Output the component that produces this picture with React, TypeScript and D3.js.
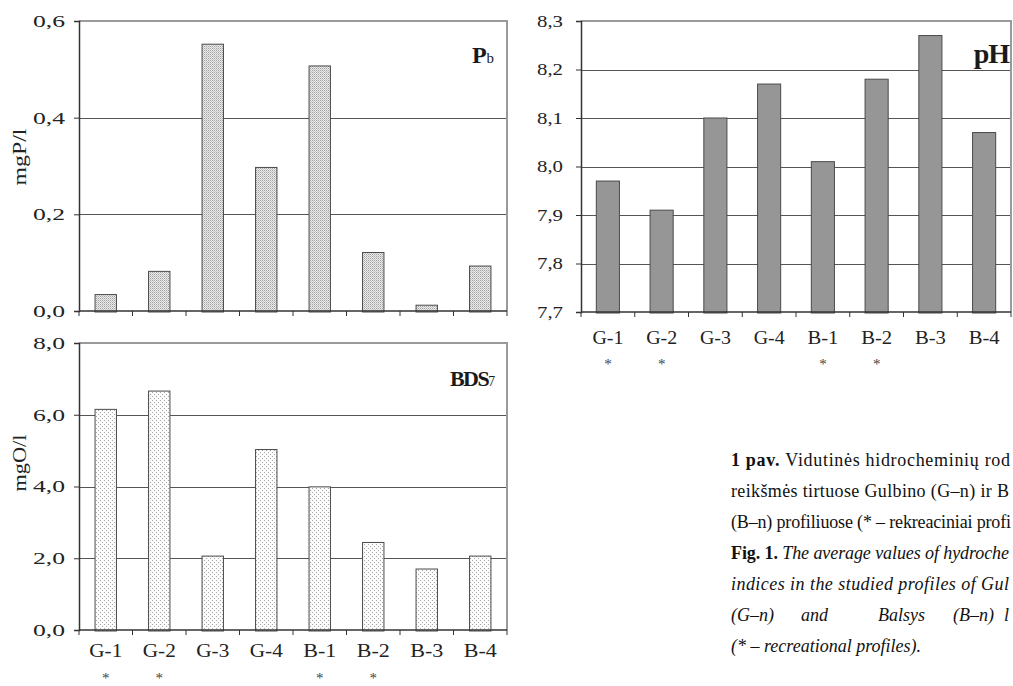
import * as d3 from "d3";
import { useEffect, useRef } from "react";

// profiles (categories)
const profiles = ["G-1", "G-2", "G-3", "G-4", "B-1", "B-2", "B-3", "B-4"];
const recreational = ["G-1", "G-2", "B-1", "B-2"];

// mean values
const pbValues = [0.034, 0.082, 0.552, 0.297, 0.507, 0.121, 0.012, 0.093];
const bdsValues = [6.15, 6.66, 2.06, 5.03, 3.99, 2.44, 1.7, 2.06];
const phValues = [7.97, 7.91, 8.1, 8.17, 8.01, 8.18, 8.27, 8.07];

const pbTicks = [0, 0.2, 0.4, 0.6];
const bdsTicks = [0, 2, 4, 6, 8];
const phTicks = [7.7, 7.8, 7.9, 8.0, 8.1, 8.2, 8.3];

// caption lines as far as the figure shows them (the page is cropped at the right)
const captionLines = [
  "Vidutinės hidrocheminių rod",
  "reikšmės tirtuose Gulbino (G–n) ir B",
  "(B–n) profiliuose (* – rekreaciniai profi",
  "The average values of hydroche",
  "indices in the studied profiles of Gul",
  "(* – recreational profiles).",
];
const captionWords6 = ["(G–n)", "and", "Balsys", "(B–n)", "l"];

const FONT = "'Liberation Serif', 'DejaVu Serif', serif";

type Panel = {
  left: number;
  right: number;
  top: number;
  bottom: number;
  domain: [number, number];
  ticks: number[];
  values: number[];
  fill: string;
  barWidthRatio: number;
  tickFont: number;
  tickTextLen: number;
  tickGap: number;
  labelsY?: number;
  starsY?: number;
  labelLen?: number;
};

const comma = (v: number, digits: number) => d3.format(`.${digits}f`)(v).replace(".", ",");

function drawPanel(svg: d3.Selection<SVGSVGElement, unknown, null, undefined>, p: Panel, digits: number) {
  const g = svg.append("g");
  const y = d3.scaleLinear().domain(p.domain).range([p.bottom, p.top]);
  const pad = 1 - p.barWidthRatio;
  const x = d3
    .scaleBand()
    .domain(profiles)
    .range([p.left, p.right])
    .paddingInner(pad)
    .paddingOuter(pad / 2);
  const xb = d3.scaleLinear().domain([0, profiles.length]).range([p.left, p.right]);

  // gridlines
  g.selectAll("line.grid")
    .data(p.ticks.slice(1, -1))
    .join("line")
    .attr("x1", p.left)
    .attr("x2", p.right)
    .attr("y1", (d) => Math.round(y(d)) + 0.5)
    .attr("y2", (d) => Math.round(y(d)) + 0.5)
    .attr("stroke", "#555")
    .attr("stroke-width", 1);

  // frame top + right (grey)
  g.append("path")
    .attr("d", `M${p.left},${p.top}H${p.right}V${p.bottom}`)
    .attr("fill", "none")
    .attr("stroke", "#9a9a9a")
    .attr("stroke-width", 2);

  // bars
  g.selectAll("rect.bar")
    .data(p.values)
    .join("rect")
    .attr("x", (_, i) => x(profiles[i]) as number)
    .attr("y", (d) => y(d))
    .attr("width", x.bandwidth())
    .attr("height", (d) => p.bottom - y(d) + 1)
    .attr("fill", p.fill)
    .attr("stroke", "#4a4a4a")
    .attr("stroke-width", 1);

  // left axis
  const ay = g
    .append("g")
    .attr("transform", `translate(${p.left},0)`)
    .call(
      d3
        .axisLeft(y)
        .tickValues(p.ticks)
        .tickSize(5)
        .tickPadding(p.tickGap)
        .tickFormat((d) => comma(d as number, digits))
    );
  ay.select(".domain").attr("stroke", "#333").attr("stroke-width", 1.5);
  ay.selectAll("line").attr("stroke", "#333");
  ay.selectAll("text")
    .attr("font-family", FONT)
    .attr("font-size", p.tickFont)
    .attr("fill", "#222")
    .attr("textLength", p.tickTextLen)
    .attr("lengthAdjust", "spacingAndGlyphs");

  // bottom axis with ticks between categories
  g.append("line")
    .attr("x1", p.left)
    .attr("x2", p.right)
    .attr("y1", p.bottom)
    .attr("y2", p.bottom)
    .attr("stroke", "#333")
    .attr("stroke-width", 1.5);
  g.selectAll("line.xt")
    .data(d3.range(profiles.length + 1))
    .join("line")
    .attr("x1", (d) => xb(d))
    .attr("x2", (d) => xb(d))
    .attr("y1", p.bottom)
    .attr("y2", p.bottom + 5)
    .attr("stroke", "#333");

  if (p.labelsY !== undefined) {
    g.selectAll("text.cat")
      .data(profiles)
      .join("text")
      .attr("x", (d) => (x(d) as number) + x.bandwidth() / 2)
      .attr("y", p.labelsY)
      .attr("text-anchor", "middle")
      .attr("font-family", FONT)
      .attr("font-size", 18)
      .attr("fill", "#222")
      .attr("textLength", p.labelLen ?? 31)
      .attr("lengthAdjust", "spacingAndGlyphs")
      .text((d) => d);
    g.selectAll("text.star")
      .data(recreational)
      .join("text")
      .attr("x", (d) => (x(d) as number) + x.bandwidth() / 2)
      .attr("y", p.starsY as number)
      .attr("text-anchor", "middle")
      .attr("font-family", FONT)
      .attr("font-size", 15)
      .attr("fill", "#444")
      .text("*");
  }
  return g;
}

const App = () => {
  const ref = useRef<SVGSVGElement>(null);

  useEffect(() => {
    const svg = d3.select(ref.current as SVGSVGElement);
    svg.selectAll("*").remove();

    const defs = svg.append("defs");
    const pbPat = defs
      .append("pattern")
      .attr("id", "pbPat")
      .attr("patternUnits", "userSpaceOnUse")
      .attr("width", 2)
      .attr("height", 2);
    pbPat.append("rect").attr("width", 2).attr("height", 2).attr("fill", "#ececec");
    pbPat.append("rect").attr("width", 1).attr("height", 1).attr("fill", "#a0a0a0");
    pbPat.append("rect").attr("x", 1).attr("y", 1).attr("width", 1).attr("height", 1).attr("fill", "#c4c4c4");

    const bdsPat = defs
      .append("pattern")
      .attr("id", "bdsPat")
      .attr("patternUnits", "userSpaceOnUse")
      .attr("width", 4)
      .attr("height", 4);
    bdsPat.append("rect").attr("width", 4).attr("height", 4).attr("fill", "#fbfbfb");
    bdsPat.append("rect").attr("width", 1).attr("height", 1).attr("fill", "#a8a8a8");
    bdsPat.append("rect").attr("x", 2).attr("y", 2).attr("width", 1).attr("height", 1).attr("fill", "#a8a8a8");

    // Pb panel
    drawPanel(
      svg,
      {
        left: 79, right: 507, top: 21, bottom: 311,
        domain: [0, 0.6], ticks: pbTicks, values: pbValues,
        fill: "url(#pbPat)", barWidthRatio: 0.4,
        tickFont: 17, tickTextLen: 32, tickGap: 9,
      },
      1
    );

    // BDS7 panel
    drawPanel(
      svg,
      {
        left: 79, right: 507, top: 343, bottom: 630,
        domain: [0, 8], ticks: bdsTicks, values: bdsValues,
        fill: "url(#bdsPat)", barWidthRatio: 0.4,
        tickFont: 17, tickTextLen: 32, tickGap: 9,
        labelsY: 657, starsY: 683, labelLen: 33,
      },
      1
    );

    // pH panel
    drawPanel(
      svg,
      {
        left: 581, right: 1011, top: 21, bottom: 312,
        domain: [7.7, 8.3], ticks: phTicks, values: phValues,
        fill: "#969696", barWidthRatio: 0.43,
        tickFont: 16, tickTextLen: 26, tickGap: 13,
        labelsY: 344, starsY: 369, labelLen: 31,
      },
      1
    );

    // y axis titles
    const ylab = (txt: string, cx: number, cy: number) =>
      svg
        .append("text")
        .attr("transform", `translate(${cx},${cy}) rotate(-90)`)
        .attr("text-anchor", "middle")
        .attr("font-family", FONT)
        .attr("font-size", 18)
        .attr("fill", "#222")
        .attr("textLength", 57)
        .attr("lengthAdjust", "spacingAndGlyphs")
        .text(txt);
    ylab("mgP/l", 26, 157);
    ylab("mgO/l", 26, 463);

    // panel titles
    const title = (main: string, sub: string, xr: number, yb: number, size: number, ls: number) => {
      const t = svg
        .append("text")
        .attr("x", xr)
        .attr("y", yb)
        .attr("text-anchor", "end")
        .attr("font-family", FONT)
        .attr("font-weight", "bold")
        .attr("fill", "#1a1a1a");
      t.append("tspan").attr("font-size", size).attr("letter-spacing", ls).text(main);
      if (sub) t.append("tspan").attr("font-size", size * 0.62).attr("font-weight", "normal").text(sub);
    };
    title("P", "b", 494, 63, 24, 0);
    title("BDS", "7", 495, 386, 22, -1.5);
    title("pH", "", 1009, 63, 28, -1);

    // caption, justified to the cropped right edge
    const cap = svg
      .append("g")
      .attr("font-family", FONT)
      .attr("font-size", 18)
      .attr("fill", "#111");
    const capX = 731;
    const just = (sel: d3.Selection<SVGTextElement, unknown, null, undefined>, len: number) =>
      sel.attr("textLength", len).attr("lengthAdjust", "spacing");

    const l1 = cap.append("text").attr("x", capX).attr("y", 466);
    l1.append("tspan").attr("font-weight", "bold").text("1 pav. ");
    l1.append("tspan").text(captionLines[0]);
    just(l1, 279);
    just(cap.append("text").attr("x", capX).attr("y", 497).text(captionLines[1]), 278);
    just(cap.append("text").attr("x", capX).attr("y", 528).text(captionLines[2]), 280);
    const l4 = cap.append("text").attr("x", capX).attr("y", 559);
    l4.append("tspan").attr("font-weight", "bold").text("Fig. 1. ");
    l4.append("tspan").attr("font-style", "italic").text(captionLines[3]);
    just(l4, 278);
    just(
      cap.append("text").attr("x", capX).attr("y", 590).attr("font-style", "italic").text(captionLines[4]),
      278
    );
    const l6 = cap.append("text").attr("y", 621).attr("font-style", "italic");
    const xs6 = [731, 801, 878, 953, 1004];
    captionWords6.forEach((w, i) => l6.append("tspan").attr("x", xs6[i]).text(w));
    cap.append("text").attr("x", capX).attr("y", 652).attr("font-style", "italic").text(captionLines[5]);
  }, []);

  return (
    <svg
      ref={ref}
      width={1013}
      height={686}
      style={{ position: "absolute", left: 0, top: 0, background: "#fff", overflow: "hidden" }}
    />
  );
};

export default App;
